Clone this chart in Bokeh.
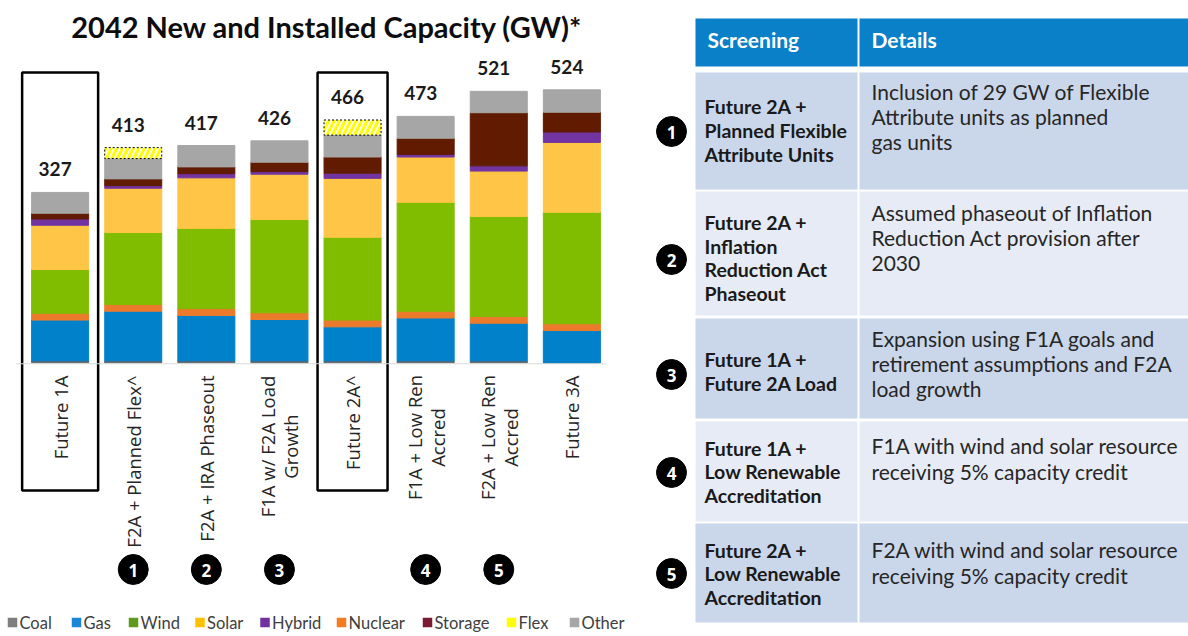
import math
from bokeh.plotting import figure
from bokeh.models import (Range1d, FactorRange, ColumnDataSource, CDSView, BooleanFilter,
                          Label, BoxAnnotation)
from bokeh.layouts import row
from bokeh.transform import stack
from bokeh.core.properties import value
from bokeh.embed import file_html
from bokeh.resources import INLINE

# ---------------- data ----------------
scenarios = ["Future 1A", "F2A + Planned Flex^", "F2A + IRA Phaseout", "F1A w/ F2A Load Growth",
             "Future 2A^", "F1A + Low Ren Accred", "F2A + Low Ren Accred", "Future 3A"]
tick_labels = ["Future 1A", "F2A + Planned Flex^", "F2A + IRA Phaseout", "F1A w/ F2A Load\nGrowth",
               "Future 2A^", "F1A + Low Ren\nAccred", "F2A + Low Ren\nAccred", "Future 3A"]
totals = [327, 413, 417, 426, 466, 473, 521, 524]
coal = [4, 4, 4, 4, 4, 4, 4, 0]
gas = [78, 95, 87, 79, 65, 82, 72, 62]
nuclear = [13, 13, 13, 13, 13, 13, 13, 13]
wind = [84, 138, 154, 179, 159, 209, 192, 214]
solar = [85, 85, 97, 87, 113, 87, 87, 134]
hybrid = [12, 5, 8, 5, 10, 5, 10, 20]
storage = [11, 13, 13, 18, 31, 31, 102, 38]
other = [40, 39, 41, 41, 42, 42, 41, 43]
flex = [0, 21, 0, 0, 29, 0, 0, 0]
screen_no = ["", "1", "2", "3", "", "4", "5", ""]
highlighted = ["Future 1A", "Future 2A^"]

legend_names = ["Coal", "Gas", "Wind", "Solar", "Hybrid", "Nuclear", "Storage", "Flex", "Other"]
legend_colors = ["#7f7f7f", "#1a87d6", "#5e9a1c", "#ffc000", "#7030a0", "#f47b20", "#7b1a33", "#ffff00", "#a6a6a6"]

table_header = ["Screening", "Details"]
table_screen = ["Future 2A +\nPlanned Flexible\nAttribute Units",
                "Future 2A  +\nInflation\nReduction Act\nPhaseout",
                "Future 1A  +\nFuture 2A Load",
                "Future 1A  +\nLow Renewable\nAccreditation",
                "Future 2A  +\nLow Renewable\nAccreditation"]
table_details = ["Inclusion of 29 GW of Flexible\nAttribute units as planned\ngas units",
                 "Assumed phaseout of Inflation\nReduction Act provision after\n2030",
                 "Expansion using F1A goals and\nretirement assumptions and F2A\nload growth",
                 "F1A with wind and solar resource\nreceiving 5% capacity credit",
                 "F2A with wind and solar resource\nreceiving 5% capacity credit"]
table_no = ["1", "2", "3", "4", "5"]

# ---------------- styles ----------------
stack_names = ["coal", "gas", "nuclear", "wind", "solar", "hybrid", "storage", "other"]
stack_colors = ["#59656f", "#0081c9", "#ec7a2b", "#80bc00", "#ffc547", "#7234a0", "#601b00", "#a6a6a6"]

K = 0.521          # px per GW
BASE = 362.3       # page y of baseline
PAGE_TOP, FIG_H = 0, 636
LEFT_W, RIGHT_W = 631, 557
PX0 = 0            # page x of left figure

src = ColumnDataSource(dict(scenario=scenarios, coal=coal, gas=gas, nuclear=nuclear, wind=wind,
                            solar=solar, hybrid=hybrid, storage=storage, other=other, flex=flex,
                            total=totals, label=[str(t) for t in totals]))

p = figure(width=LEFT_W, height=FIG_H, output_backend="svg", toolbar_location=None,
           x_range=FactorRange(factors=scenarios, range_padding=0.3157, range_padding_units="absolute"),
           y_range=Range1d((BASE - (PAGE_TOP + FIG_H)) / K, (BASE - PAGE_TOP) / K),
           min_border=0, outline_line_color=None, x_axis_location=None, y_axis_location=None)
p.extra_y_ranges = {"px": Range1d(PAGE_TOP + FIG_H, PAGE_TOP)}
p.xgrid.visible = False
p.ygrid.visible = False
p.background_fill_color = "white"
p.border_fill_color = "white"

# baseline
p.add_layout(BoxAnnotation(left=16 - PX0, right=606 - PX0, left_units="screen", right_units="screen",
                           top=BASE + 1.5, bottom=BASE + 0.5, y_range_name="px",
                           fill_color="#d9d9d9", fill_alpha=1, line_color=None))

p.vbar_stack(stack_names, x="scenario", width=0.78, color=stack_colors, source=src)
view = CDSView(filter=BooleanFilter([f > 0 for f in flex]))
p.vbar(x="scenario", bottom=stack(*stack_names), top=stack(*(stack_names + ["flex"])), width=0.78,
       source=src, view=view, fill_color="white", hatch_pattern="/", hatch_color="#ffff00",
       hatch_scale=11, hatch_weight=3, line_color="black", line_width=1, line_dash="2 2")

# totals
p.text(x="scenario", y="total", text="label", source=src, x_offset=-5, y_offset=-23,
       text_align="center", text_baseline="middle", text_font=value("Lato"),
       text_font_size="19px", text_font_style="bold", text_color="#1a1a1a")

# highlight boxes
hw = [76, 70]
p.rect(x=highlighted, y=[281, 281], width=hw, height=[418, 418], width_units="screen",
       height_units="screen", y_range_name="px", fill_color=None, line_color="black", line_width=2.5)

# category labels (rotated)
single = [(s, t) for s, t in zip(scenarios, tick_labels) if "\n" not in t]
multi = [(s, t) for s, t in zip(scenarios, tick_labels) if "\n" in t]
p.text(x=[s for s, _ in single], y=[375] * len(single), text=[t for _, t in single],
       y_range_name="px", angle=math.pi / 2, text_align="right", text_baseline="middle",
       text_font=value("Open Sans"), text_font_size="18.5px", text_color="#262626")
multi_center = {"F1A w/ F2A Load Growth": 446, "F1A + Low Ren Accred": 437, "F2A + Low Ren Accred": 437}
p.text(x=[s for s, _ in multi], y=[multi_center[s] for s, _ in multi], text=[t for _, t in multi],
       y_range_name="px", angle=math.pi / 2, text_align="center", text_baseline="middle",
       text_line_height=0.92, text_font=value("Open Sans"), text_font_size="18.5px", text_color="#262626")

# number circles
num_x = [s for s, n in zip(scenarios, screen_no) if n]
num_t = [n for n in screen_no if n]
p.scatter(x=num_x, y=[569] * len(num_x), size=30, y_range_name="px", marker="circle",
          fill_color="black", line_color="black")
p.text(x=num_x, y=[570] * len(num_x), text=num_t, y_range_name="px", text_align="center",
       text_baseline="middle", text_font=value("Open Sans"), text_font_size="17px",
       text_font_style="bold", text_color="white")

# title
p.add_layout(Label(x=330 - PX0, x_units="screen", y=26, y_range_name="px",
                   text="2042  New and Installed Capacity (GW)*", text_align="center",
                   text_baseline="middle", text_font="Lato", text_font_size="29px",
                   text_font_style="bold", text_color="#0d0d0d"))

# legend
leg_x = [12, 76, 133, 199.5, 264.5, 341, 427, 511, 574]
leg_y = 622
for lx, name, col in zip(leg_x, legend_names, legend_colors):
    p.add_layout(BoxAnnotation(left=lx - PX0 - 4.75, right=lx - PX0 + 4.75, left_units="screen",
                               right_units="screen", top=leg_y - 4.75, bottom=leg_y + 4.75,
                               y_range_name="px", fill_color=col, fill_alpha=1, line_color=None))
    p.add_layout(Label(x=lx - PX0 + 7, x_units="screen", y=leg_y + 0.5, y_range_name="px", text=name,
                       text_align="left", text_baseline="middle", text_font="Lato",
                       text_font_size="16.5px", text_color="#404040"))

# ---------------- table ----------------
t = figure(width=RIGHT_W, height=FIG_H, output_backend="svg", toolbar_location=None,
           x_range=Range1d(PX0 + LEFT_W, PX0 + LEFT_W + RIGHT_W), y_range=Range1d(PAGE_TOP + FIG_H, PAGE_TOP),
           min_border=0, outline_line_color=None, x_axis_location=None, y_axis_location=None)
t.xgrid.visible = False
t.ygrid.visible = False

C1L, C1R, C2L, C2R = 695, 857, 859, 1188
row_top = [72, 191, 318, 421, 523]
row_bot = [189, 315, 418, 521, 622]
row_fill = ["#cad6ea", "#e6ebf5", "#cad6ea", "#e6ebf5", "#cad6ea"]

t.quad(left=[C1L, C2L], right=[C1R, C2R], top=[18, 18], bottom=[66, 66], fill_color="#0a80c8", line_color=None)
t.text(x=[707, 871], y=[39, 39], text=table_header, text_align="left", text_baseline="middle",
       text_font=value("Lato"), text_font_size="21px", text_font_style="bold", text_color="white")

t.quad(left=[C1L] * 5, right=[C1R] * 5, top=row_top, bottom=row_bot, fill_color=row_fill, line_color=None)
t.quad(left=[C2L] * 5, right=[C2R] * 5, top=row_top, bottom=row_bot, fill_color=row_fill, line_color=None)

scr_center = [130, 257.5, 371, 471.5, 573.5]
det_center = [116, 237, 363, 458, 562]
t.text(x=[704] * 5, y=scr_center, text=table_screen, text_align="left", text_baseline="middle",
       text_line_height=1.03, text_font=value("Lato"), text_font_size="19.5px", text_font_style="bold",
       text_color="#1a1a1a")
t.text(x=[871] * 5, y=det_center, text=table_details, text_align="left", text_baseline="middle",
       text_line_height=1.01, text_font=value("Lato"), text_font_size="21px", text_color="#262626")

circ_y = [131, 259, 374, 472, 573]
t.scatter(x=[671] * 5, y=circ_y, size=30, marker="circle", fill_color="black", line_color="black")
t.text(x=[671] * 5, y=[c + 1 for c in circ_y], text=table_no, text_align="center", text_baseline="middle",
       text_font=value("Open Sans"), text_font_size="17px", text_font_style="bold", text_color="white")

layout = row(p, t)
open("out.html", "w").write(file_html(layout, INLINE))
